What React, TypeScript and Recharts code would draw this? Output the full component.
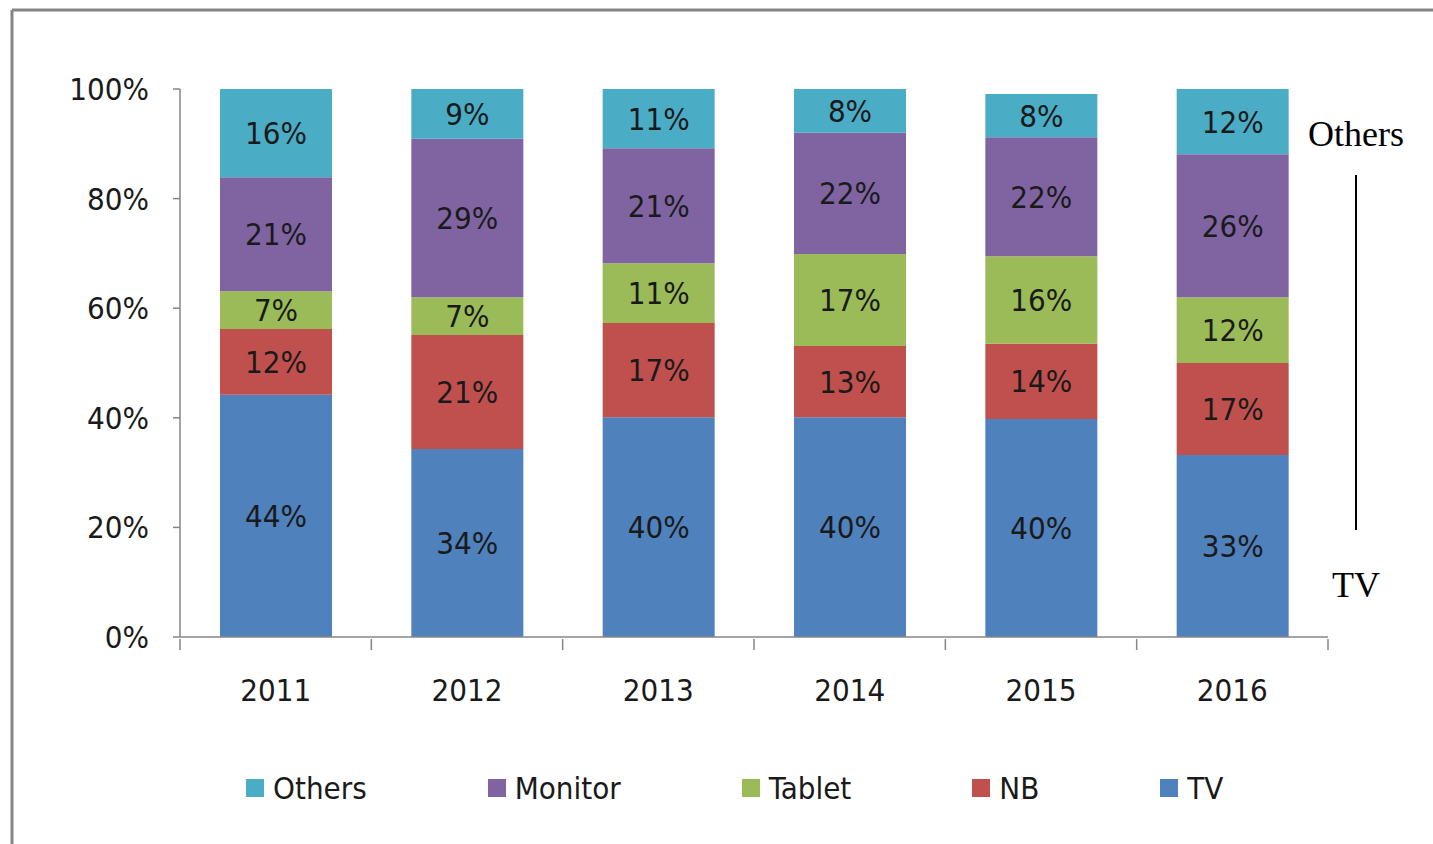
import { Bar, BarChart, LabelList, Legend, XAxis, YAxis } from "recharts";

const years = ["2011", "2012", "2013", "2014", "2015", "2016"];
const tv = [44.2, 34.3, 40.1, 40.1, 39.8, 33.2];
const nb = [12.0, 20.8, 17.2, 13.0, 13.7, 16.8];
const tablet = [6.9, 6.9, 10.9, 16.8, 16.0, 12.0];
const monitor = [20.8, 28.9, 21.0, 22.1, 21.7, 26.1];
const others = [16.2, 9.1, 10.8, 8.0, 7.9, 11.9];
const yTicks = [0, 20, 40, 60, 80, 100];

const series = [
  { key: "TV", values: tv, color: "#4F81BD" },
  { key: "NB", values: nb, color: "#C0504D" },
  { key: "Tablet", values: tablet, color: "#9BBB59" },
  { key: "Monitor", values: monitor, color: "#8064A2" },
  { key: "Others", values: others, color: "#4BACC6" }
];

const data = years.map((year, i) => {
  const row: Record<string, string | number> = { year };
  series.forEach((s) => {
    row[s.key] = s.values[i];
  });
  return row;
});

const font = '"Liberation Sans Narrow", "DejaVu Sans Condensed", "Open Sans", sans-serif';
const axisColor = "#868686";

function YearTick(props: any) {
  const { x, y, payload, index } = props;
  const half = payload.offset ?? 0;
  return (
    <g>
      <line x1={x - half} x2={x - half} y1={y} y2={y + 11} stroke={axisColor} strokeWidth={1.5} />
      {index === years.length - 1 && (
        <line x1={x + half} x2={x + half} y1={y} y2={y + 11} stroke={axisColor} strokeWidth={1.5} />
      )}
      <text x={x} y={y + 51} textAnchor="middle" dominantBaseline="central" fontSize={31} fill="#1a1a1a" fontFamily={font}>
        {payload.value}
      </text>
    </g>
  );
}

function LegendContent() {
  const items = [...series].reverse();
  return (
    <div style={{ display: "flex", gap: 121, paddingLeft: 246, fontFamily: font, fontSize: 31, color: "#1a1a1a" }}>
      {items.map((s) => (
        <div key={s.key} style={{ display: "flex", alignItems: "center" }}>
          <span style={{ width: 18, height: 18, background: s.color, marginRight: 9, display: "inline-block" }} />
          <span>{s.key}</span>
        </div>
      ))}
    </div>
  );
}

export default function App() {
  return (
    <div style={{ position: "fixed", left: 0, top: 0, width: 1433, height: 844, background: "#fff" }}>
      <BarChart
        width={1433}
        height={844}
        data={data}
        margin={{ top: 89, right: 105, bottom: 147, left: 0 }}
        barSize={112}
      >
        <XAxis
          dataKey="year"
          height={60}
          tickLine={false}
          tickSize={0}
          tick={<YearTick />}
          axisLine={{ stroke: axisColor, strokeWidth: 1.5 }}
          interval={0}
        />
        <YAxis
          width={180}
          domain={[0, 100]}
          allowDataOverflow
          ticks={yTicks}
          tickFormatter={(v) => `${v}%`}
          tickSize={7}
          tickMargin={24}
          axisLine={{ stroke: axisColor, strokeWidth: 1.5 }}
          tickLine={{ stroke: axisColor, strokeWidth: 1.5 }}
          tick={{ fontSize: 31, fill: "#1a1a1a", fontFamily: font }}
        />
        <Legend
          verticalAlign="middle"
          align="center"
          layout="horizontal"
          wrapperStyle={{ top: 770, left: 0, width: 1433 }}
          content={<LegendContent />}
        />
        {series.map((s) => (
          <Bar key={s.key} dataKey={s.key} stackId="a" fill={s.color} isAnimationActive={false}>
            <LabelList
              dataKey={s.key}
              position="center"
              formatter={(v: any) => `${Math.round(Number(v))}%`}
              style={{ fontSize: 31, fill: "#1a1a1a", fontFamily: font }}
            />
          </Bar>
        ))}
      </BarChart>
      <svg width={1433} height={844} style={{ position: "absolute", left: 0, top: 0, pointerEvents: "none" }}>
        <line x1={12} x2={1433} y1={10} y2={10} stroke="#858585" strokeWidth={3} />
        <line x1={12} x2={12} y1={10} y2={844} stroke="#858585" strokeWidth={3} />
        <text x={1356} y={134} textAnchor="middle" dominantBaseline="central" fontSize={36} fontFamily='"Liberation Serif", "Times New Roman", serif' fill="#000">
          Others
        </text>
        <line x1={1356} x2={1356} y1={175} y2={530} stroke="#000" strokeWidth={2} />
        <text x={1356} y={585} textAnchor="middle" dominantBaseline="central" fontSize={36} fontFamily='"Liberation Serif", "Times New Roman", serif' fill="#000">
          TV
        </text>
      </svg>
    </div>
  );
}
